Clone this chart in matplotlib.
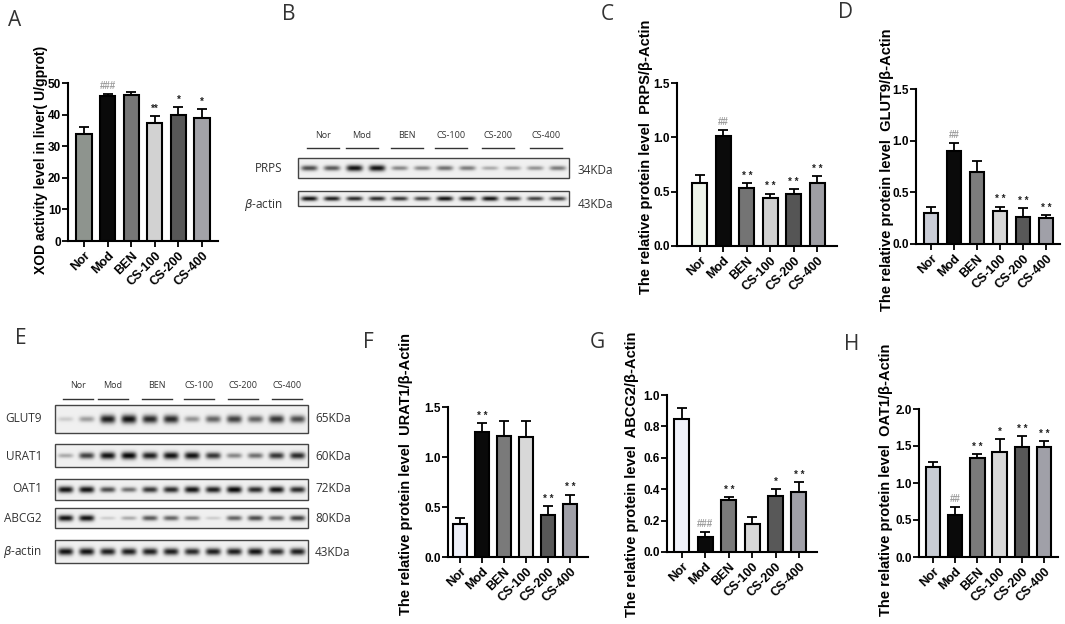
import numpy as np
import matplotlib
matplotlib.use('Agg')
import matplotlib.pyplot as plt
from matplotlib.patches import Rectangle

plt.rcParams['font.family'] = ['Liberation Sans', 'DejaVu Sans']

W, H = 1065, 624

groups = ['Nor', 'Mod', 'BEN', 'CS-100', 'CS-200', 'CS-400']

# A: XOD activity in liver
xod_mean = [34.0, 46.0, 46.3, 37.5, 40.0, 39.0]
xod_err = [2.0, 0.6, 1.0, 2.0, 2.3, 2.8]
xod_sig = ['', '###', '', '**', '*', '*']

# C: PRPS / beta-actin
prps_mean = [0.58, 1.01, 0.53, 0.44, 0.48, 0.58]
prps_err = [0.07, 0.06, 0.05, 0.04, 0.04, 0.06]
prps_sig = ['', '##', '* *', '* *', '* *', '* *']

# D: GLUT9 / beta-actin (liver)
glut9_mean = [0.30, 0.90, 0.70, 0.32, 0.26, 0.25]
glut9_err = [0.06, 0.08, 0.10, 0.04, 0.09, 0.03]
glut9_sig = ['', '##', '', '* *', '* *', '* *']

# F: URAT1 / beta-actin
urat1_mean = [0.335, 1.25, 1.21, 1.205, 0.42, 0.535]
urat1_err = [0.06, 0.09, 0.15, 0.155, 0.09, 0.09]
urat1_sig = ['', '* *', '', '', '* *', '* *']

# G: ABCG2 / beta-actin
abcg2_mean = [0.845, 0.093, 0.33, 0.18, 0.354, 0.383]
abcg2_err = [0.075, 0.037, 0.02, 0.04, 0.046, 0.06]
abcg2_sig = ['', '###', '* *', '', '*', '* *']

# H: OAT1 / beta-actin
oat1_mean = [1.22, 0.566, 1.335, 1.416, 1.49, 1.49]
oat1_err = [0.06, 0.114, 0.055, 0.18, 0.14, 0.08]
oat1_sig = ['', '##', '* *', '*', '* *', '* *']

# western blot band strengths, 12 lanes (2 per group)
blot_b = {
    'PRPS': [0.70, 0.65, 0.95, 0.95, 0.45, 0.45, 0.55, 0.50, 0.30, 0.35, 0.40, 0.50],
    'actin': [0.95, 0.90, 0.85, 0.85, 0.80, 0.75, 0.95, 0.90, 0.95, 0.80, 0.75, 0.75],
}
blot_e = {
    'GLUT9': [0.15, 0.35, 0.90, 0.95, 0.85, 0.85, 0.40, 0.60, 0.75, 0.60, 0.80, 0.70],
    'URAT1': [0.30, 0.75, 0.95, 1.00, 0.90, 0.95, 0.95, 0.80, 0.45, 0.55, 0.80, 0.85],
    'OAT1': [0.95, 0.95, 0.70, 0.55, 0.80, 0.85, 0.95, 0.90, 1.00, 0.85, 0.95, 0.85],
    'ABCG2': [0.95, 0.95, 0.15, 0.30, 0.65, 0.60, 0.45, 0.15, 0.60, 0.70, 0.60, 0.75],
    'actin': [0.95, 0.95, 0.90, 0.90, 0.90, 0.90, 0.85, 0.90, 0.90, 0.95, 0.85, 0.90],
}
kda_b = ['34KDa', '43KDa']
kda_e = ['65KDa', '60KDa', '72KDa', '80KDa', '43KDa']

fig = plt.figure(figsize=(W / 100, H / 100), dpi=100)

# overlay in pixel coordinates for blots and panel letters
ov = fig.add_axes([0, 0, 1, 1], zorder=-1)
ov.set_xlim(0, W)
ov.set_ylim(H, 0)
ov.axis('off')

blot_font = ['Open Sans', 'DejaVu Sans']


def bar_panel(box, xlim, ymax, yticks, fmt, mean, err, sig, colors, ylabel, lab_xy, lab_size):
    l, t, r, b = box
    ax = fig.add_axes([l / W, 1 - b / H, (r - l) / W, (b - t) / H])
    x = np.arange(len(groups))
    ax.errorbar(x, mean, yerr=[np.zeros(len(mean)), err], fmt='none', ecolor='black',
                elinewidth=1.3, capsize=3.5, capthick=1.3, zorder=2)
    ax.bar(x, mean, width=0.64, color=colors, edgecolor='black', linewidth=1.5, zorder=3)
    for xi, m, e, s in zip(x, mean, err, sig):
        if not s:
            continue
        col = '#9a9a9a' if '#' in s else '#222222'
        ax.text(xi, m + e + ymax * 0.015, s, ha='center', va='bottom', fontsize=7,
                color=col, fontweight='bold')
    ax.set_xlim(*xlim)
    ax.set_ylim(0, ymax)
    ax.set_yticks(yticks)
    ax.set_yticklabels([fmt.format(v) for v in yticks], fontsize=8.5, fontweight='bold')
    ax.set_xticks(x)
    ax.set_xticklabels(groups, rotation=45, ha='right', rotation_mode='anchor',
                       fontsize=9, fontweight='bold')
    for s in ['top', 'right']:
        ax.spines[s].set_visible(False)
    for s in ['left', 'bottom']:
        ax.spines[s].set_linewidth(1.5)
    ax.tick_params(axis='y', direction='out', length=4, width=1.3, pad=1)
    ax.tick_params(axis='x', direction='out', length=4, width=1.3, pad=2)
    ax.patch.set_alpha(0)
    fig.text(lab_xy[0] / W, 1 - lab_xy[1] / H, ylabel, rotation=90, ha='center', va='center',
             fontsize=lab_size, fontweight='bold')
    return ax


def blot_strip(x0, y0, x1, y1, lanes):
    n = len(lanes)
    res = 4
    w = int((x1 - x0) * res)
    h = int((y1 - y0) * res)
    xx = np.arange(w)[None, :] / res
    yy = np.arange(h)[:, None] / res
    img = np.full((h, w), 0.94)
    lw = (x1 - x0) / n
    cy = (y1 - y0) / 2
    for i, s in enumerate(lanes):
        cx = lw * (i + 0.5)
        hw = lw * 0.36
        sig = (y1 - y0) * (0.07 + 0.09 * s)
        prof = np.exp(-((xx - cx) / hw) ** 4) * np.exp(-((yy - cy) / sig) ** 2)
        img -= 0.92 * s * prof
    img = np.clip(img, 0, 1)
    ov.imshow(img, cmap='gray', vmin=0, vmax=1, extent=(x0, x1, y1, y0),
              aspect='auto', interpolation='bilinear', zorder=1)
    ov.add_patch(Rectangle((x0, y0), x1 - x0, y1 - y0, fill=False,
                           edgecolor='#444444', linewidth=1.0, zorder=2))


def group_header(xs, y_text, y_line, half, size):
    for g, xc in zip(groups, xs):
        ov.text(xc, y_text, g, ha='center', va='center', fontsize=size,
                color='#333333', family=blot_font)
        ov.plot([xc - half, xc + half], [y_line, y_line], color='#333333', lw=1.0)


# ---------------- A ----------------
col_a = ['#8e948e', '#0a0a0a', '#777777', '#d2d2d2', '#575757', '#a2a2a8']
bar_panel((68, 83, 218, 241), (-0.68, 5.68), 50, [0, 10, 20, 30, 40, 50], '{:.0f}',
          xod_mean, xod_err, xod_sig, col_a,
          'XOD activity level in liver( U/gprot)', (41, 160), 10)

# ---------------- B ----------------
group_header([323, 362, 407, 451, 498, 546], 135, 148, 16, 6.5)
blot_strip(298, 158, 569, 178, blot_b['PRPS'])
blot_strip(298, 191, 569, 206, blot_b['actin'])
ov.text(283, 168, 'PRPS', ha='right', va='center', fontsize=8.5, color='#333333', family=blot_font)
ov.text(283, 205, r'$\beta$-actin', ha='right', va='center', fontsize=8.5, color='#333333',
        family=blot_font)
for k, yc in zip(kda_b, [171, 205]):
    ov.text(578, yc, k, ha='left', va='center', fontsize=8.5, color='#333333', family=blot_font)

# ---------------- C ----------------
col_c = ['#eef4ea', '#0a0a0a', '#747474', '#d0d0d0', '#555555', '#9e9ea4']
bar_panel((677, 83, 837, 246), (-0.98, 5.85), 1.5, [0, 0.5, 1.0, 1.5], '{:.1f}',
          prps_mean, prps_err, prps_sig, col_c,
          'The relative protein level  PRPS/\u03b2-Actin', (646, 157), 10.5)

# ---------------- D ----------------
col_d = ['#c9ccd6', '#0a0a0a', '#7c7c7c', '#d6d6d6', '#585858', '#a0a0a8']
bar_panel((916, 89, 1060, 244), (-0.65, 5.61), 1.5, [0, 0.5, 1.0, 1.5], '{:.1f}',
          glut9_mean, glut9_err, glut9_sig, col_d,
          'The relative protein level  GLUT9/\u03b2-Actin', (887, 170), 10.5)

# ---------------- E ----------------
group_header([78, 113, 157, 199, 243, 287], 386, 399, 15, 6.5)
rows_e = [('GLUT9', 405, 433, 419), ('URAT1', 444, 467, 456), ('OAT1', 479, 500, 489),
          ('ABCG2', 508, 528, 519), ('actin', 540, 563, 552)]
for (name, y0, y1, yc), k in zip(rows_e, kda_e):
    blot_strip(55, y0, 308, y1, blot_e[name])
    lab = r'$\beta$-actin' if name == 'actin' else name
    ov.text(42, yc, lab, ha='right', va='center', fontsize=8.5, color='#333333', family=blot_font)
    ov.text(315, yc, k, ha='left', va='center', fontsize=8.5, color='#333333', family=blot_font)

# ---------------- F ----------------
col_f = ['#eef0f8', '#0a0a0a', '#7a7a7a', '#d8d8d8', '#585858', '#a0a0a8']
bar_panel((448, 407, 588, 557), (-0.55, 5.82), 1.5, [0, 0.5, 1.0, 1.5], '{:.1f}',
          urat1_mean, urat1_err, urat1_sig, col_f,
          'The relative protein level  URAT1/\u03b2-Actin', (406, 474), 10.5)

# ---------------- G ----------------
col_g = ['#f0f2fa', '#0a0a0a', '#7a7a7a', '#d8d8d8', '#585858', '#a0a0a8']
bar_panel((667, 395, 817, 552), (-0.64, 5.77), 1.0, [0, 0.2, 0.4, 0.6, 0.8, 1.0], '{:.1f}',
          abcg2_mean, abcg2_err, abcg2_sig, col_g,
          'The relative protein level  ABCG2/\u03b2-Actin', (632, 474), 10.5)

# ---------------- H ----------------
col_h = ['#c8ccd4', '#0a0a0a', '#7a7a7a', '#d8d8d8', '#585858', '#a0a0a8']
bar_panel((919, 409, 1058, 557), (-0.63, 5.63), 2.0, [0, 0.5, 1.0, 1.5, 2.0], '{:.1f}',
          oat1_mean, oat1_err, oat1_sig, col_h,
          'The relative protein level  OAT1/\u03b2-Actin', (886, 480), 10.5)

# panel letters
for letter, xy in zip('ABCDEFGH', [(15, 20), (289, 15), (607, 14), (845, 13),
                                   (21, 338), (368, 343), (597, 343), (852, 345)]):
    ov.text(xy[0], xy[1], letter, ha='center', va='center', fontsize=15,
            color='#333333', family=blot_font)

fig.savefig('out.png', dpi=100)
